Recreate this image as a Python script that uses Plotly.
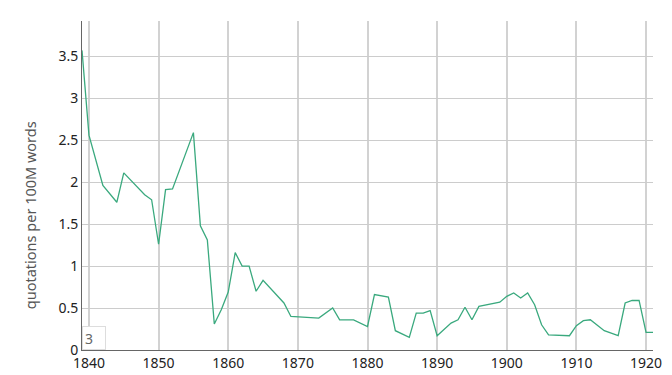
import plotly.graph_objects as go

years = [1839, 1840, 1842, 1844, 1845, 1848, 1849, 1850, 1851, 1852, 1855, 1856,
         1857, 1858, 1859, 1860, 1861, 1862, 1863, 1864, 1865, 1868, 1869, 1873,
         1875, 1876, 1878, 1880, 1881, 1883, 1884, 1886, 1887, 1888, 1889, 1890,
         1892, 1893, 1894, 1895, 1896, 1899, 1900, 1901, 1902, 1903, 1904, 1905,
         1906, 1909, 1910, 1911, 1912, 1913, 1914, 1916, 1917, 1918, 1919, 1920, 1921]
values = [3.57, 2.56, 1.96, 1.76, 2.11, 1.85, 1.79, 1.26, 1.91, 1.92, 2.59, 1.48,
          1.31, 0.31, 0.48, 0.69, 1.16, 1.0, 1.0, 0.70, 0.83, 0.56, 0.40, 0.38,
          0.50, 0.36, 0.36, 0.28, 0.66, 0.63, 0.23, 0.15, 0.44, 0.44, 0.47, 0.17,
          0.32, 0.36, 0.51, 0.36, 0.52, 0.57, 0.64, 0.68, 0.62, 0.68, 0.54, 0.30,
          0.18, 0.17, 0.29, 0.35, 0.36, 0.29, 0.23, 0.17, 0.56, 0.59, 0.59, 0.21, 0.21]

x_ticks = [1840, 1850, 1860, 1870, 1880, 1890, 1900, 1910, 1920]
y_ticks = [0, 0.5, 1, 1.5, 2, 2.5, 3, 3.5]
y_labels = ["0", "0.5", "1", "1.5", "2", "2.5", "3", "3.5"]
y_title = "quotations per 100M words"

fig = go.Figure()
fig.add_trace(go.Scatter(x=years, y=values, mode="lines",
                         line=dict(color="#3aa97e", width=1.3),
                         hoverinfo="x+y", showlegend=False))

fig.update_layout(
    width=672, height=375,
    margin=dict(l=82, r=19, t=21, b=25),
    paper_bgcolor="white", plot_bgcolor="white",
    font=dict(family="Noto Sans, sans-serif", size=14, color="#222"),
    xaxis=dict(range=[1839, 1921], tickvals=x_ticks, ticktext=[str(t) for t in x_ticks],
               showgrid=True, gridcolor="#d2d2d2", gridwidth=2,
               showline=True, linecolor="#666", linewidth=1, automargin=False,
               zeroline=False, ticks="", ticklen=0, tickfont=dict(size=14, color="#222")),
    yaxis=dict(range=[0, 3.92], tickvals=y_ticks, ticktext=y_labels,
               showgrid=True, gridcolor="#cccccc", gridwidth=1,
               showline=True, linecolor="#666", linewidth=1, automargin=False,
               zeroline=False, ticks="", ticklen=0, tickfont=dict(size=14, color="#222")),
)

fig.add_annotation(xref="paper", yref="paper", x=-0.091, y=0.41,
                   xanchor="center", yanchor="middle", textangle=-90,
                   text=y_title, showarrow=False,
                   font=dict(size=14.5, color="#555"))

fig.add_annotation(xref="paper", yref="paper", x=0, y=0, xanchor="left", yanchor="bottom",
                   text="3", showarrow=False, align="left",
                   width=18, height=18, borderpad=2,
                   bgcolor="white", bordercolor="#dddddd", borderwidth=1,
                   font=dict(size=14, color="#666"))

fig.write_html("out.html")
